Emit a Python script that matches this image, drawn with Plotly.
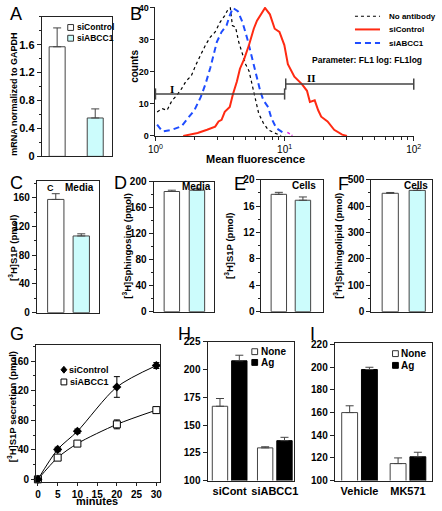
import plotly.graph_objects as go

W, H = 442, 511
FONT = "Arial, Liberation Sans, sans-serif"
CYAN = "#ccfcfc"
EDGE = "#444444"

# ---------------- data ----------------
# A
a_cats = ["siControl", "siABCC1"]
a_vals = [1.57, 0.55]
a_err = [0.27, 0.13]
# B histograms (fluorescence, counts)
noab_x = [1.03, 1.13, 1.23, 1.34, 1.46, 1.59, 1.73, 1.89, 2.06, 2.24, 2.44, 2.66, 2.90, 3.16, 3.44, 3.65, 3.80,
          3.94, 4.17, 4.41, 4.72, 5.00, 5.30, 5.61, 5.94, 6.30, 6.85, 7.46, 8.38, 9.40]
noab_y = [7.5, 8.5, 8.0, 11.0, 12.6, 14.7, 17.2, 18.7, 22.3, 25.3, 28.4, 30.9, 32.5, 35.5, 37.6, 39.6, 40.0,
          34.5, 34.0, 29.4, 25.3, 22.3, 20.3, 16.2, 11.1, 7.0, 4.0, 1.9, 0.9, 0.1]
sictl_x = [1.64, 2.12, 2.51, 2.90, 3.08, 3.25, 3.44, 3.76, 3.98, 4.27, 4.51, 4.86, 5.30, 5.77, 6.11, 6.47, 7.05,
           7.69, 8.38, 9.12, 9.95, 10.6, 11.9, 13.6, 14.9, 15.7, 17.1, 18.2, 19.2, 21.5, 24.2, 27.9, 30.4]
sictl_y = [0.0, 0.9, 1.9, 2.9, 4.5, 5.0, 7.5, 9.0, 13.0, 17.0, 21.0, 24.0, 28.4, 33.5, 36.0, 37.5, 40.0,
           38.0, 33.5, 32.5, 28.4, 22.4, 18.5, 16.2, 14.1, 10.6, 11.1, 8.0, 6.0, 4.5, 1.9, 0.4, 0.0]
siabc_x = [1.03, 1.13, 1.34, 1.59, 1.78, 2.00, 2.24, 2.44, 2.66, 2.82, 2.99, 3.25, 3.55, 3.76, 3.98, 4.34,
           4.72, 5.14, 5.61, 6.11, 6.47, 6.85, 7.46, 7.91, 8.63, 9.40, 10.2]
siabc_y = [3.5, 1.4, 1.9, 3.0, 5.5, 8.0, 12.1, 16.2, 21.3, 25.3, 29.4, 32.5, 34.5, 37.6, 40.0, 39.0,
           35.5, 30.4, 24.3, 18.2, 14.1, 11.1, 9.0, 5.5, 2.4, 1.4, 0.4]
mag_x = [10.5, 11.5]
mag_y = [1.1, 0.1]
gate1_x = [1.0, 10.0]
gate1_y = [13.1, 13.1]
gate2_x = [10.2, 100.0]
gate2_y = [16.2, 16.2]
b_xticks = [1, 10, 100]
b_xticktext = ["10<sup>0</sup>", "10<sup>1</sup>", "10<sup>2</sup>"]
# C-F
c_vals = [158, 107]; c_err = [8, 3]
d_vals = [185, 187]; d_err = [2, 3]
e_vals = [17.8, 16.9]; e_err = [0.3, 0.5]
f_vals = [449, 460]; f_err = [3, 7]
# G
g_min = [0, 5, 10, 20, 30]
g_ctl = [0, 40.5, 65, 125, 154]
g_ctl_err = [1, 3, 3, 14, 4]
g_abc = [0, 29.4, 48.4, 74.4, 93.7]
g_abc_err = [1, 2, 2, 6, 2]
# H
h_cats = ["siCont", "siABCC1"]
h_none = [167, 129.5]; h_none_err = [7, 1]
h_ag = [208, 136]; h_ag_err = [5, 3]
# I
i_cats = ["Vehicle", "MK571"]
i_none = [160, 115]; i_none_err = [6, 5]
i_ag = [198, 121]; i_ag_err = [2, 4]


def px(x):
    return x / W


def py(y):
    return 1 - y / H


def dom_x(a, b):
    return [px(a), px(b)]


def dom_y(top, bottom):
    return [py(bottom), py(top)]


fig = go.Figure()

tickfont = dict(size=10, family=FONT, color="black", weight="bold")


def box_axis(domain, rng, **kw):
    d = dict(domain=domain, range=rng, showline=True, linewidth=1, linecolor="#222", mirror=True,
             ticks="outside", ticklen=4, tickwidth=1, tickcolor="#222", showgrid=False, zeroline=False,
             tickfont=tickfont, fixedrange=True)
    d.update(kw)
    return d


def err(arr, color=EDGE):
    return dict(type="data", array=arr, arrayminus=[0] * len(arr), symmetric=False,
                color=color, thickness=1, width=4)


def pair_bars(cats, vals, errs, xa, ya, width):
    fig.add_trace(go.Bar(x=cats, y=vals, error_y=err(errs), width=width,
                         marker=dict(color=["white", CYAN], line=dict(color=EDGE, width=1)),
                         xaxis=xa, yaxis=ya, showlegend=False, hoverinfo="skip"))


# ---- A ----
pair_bars(a_cats, a_vals, a_err, "x", "y", 0.42)
# ---- B ----
fig.add_trace(go.Scatter(x=noab_x, y=noab_y, mode="lines", line=dict(color="black", width=1.2, dash="dot"),
                         xaxis="x2", yaxis="y2", showlegend=False))
fig.add_trace(go.Scatter(x=siabc_x, y=siabc_y, mode="lines", line=dict(color="#1f4dff", width=2, dash="6px,4px"),
                         xaxis="x2", yaxis="y2", showlegend=False))
fig.add_trace(go.Scatter(x=sictl_x, y=sictl_y, mode="lines", line=dict(color="#ff2a12", width=2),
                         xaxis="x2", yaxis="y2", showlegend=False))
fig.add_trace(go.Scatter(x=mag_x, y=mag_y, mode="lines", line=dict(color="#e020e0", width=1.5, dash="3px,2px"),
                         xaxis="x2", yaxis="y2", showlegend=False))
for gx, gy in ((gate1_x, gate1_y), (gate2_x, gate2_y)):
    fig.add_trace(go.Scatter(x=gx, y=gy, mode="lines+markers",
                             line=dict(color="#444", width=1.5),
                             marker=dict(symbol="line-ns", size=8, line=dict(color="#444", width=1.5)),
                             xaxis="x2", yaxis="y2", showlegend=False, cliponaxis=False))
# ---- C-F ----
pair_bars(a_cats, c_vals, c_err, "x3", "y3", 0.64)
pair_bars(a_cats, d_vals, d_err, "x4", "y4", 0.615)
pair_bars(a_cats, e_vals, e_err, "x5", "y5", 0.64)
pair_bars(a_cats, f_vals, f_err, "x6", "y6", 0.6)
# ---- G ----
fig.add_trace(go.Scatter(x=g_min, y=g_abc, mode="lines+markers",
                         line=dict(color="black", width=1, shape="spline", smoothing=0.8),
                         marker=dict(symbol="square", size=7, color="white", line=dict(color="black", width=1)),
                         error_y=dict(type="data", array=g_abc_err, color="black", thickness=1, width=3),
                         xaxis="x7", yaxis="y7", showlegend=False, cliponaxis=False))
fig.add_trace(go.Scatter(x=g_min, y=g_ctl, mode="lines+markers",
                         line=dict(color="black", width=1, shape="spline", smoothing=0.8),
                         marker=dict(symbol="diamond", size=7, color="black"),
                         error_y=dict(type="data", array=g_ctl_err, color="black", thickness=1, width=3),
                         xaxis="x7", yaxis="y7", showlegend=False, cliponaxis=False))
# ---- H ----
fig.add_trace(go.Bar(x=h_cats, y=h_none, error_y=err(h_none_err), offset=-0.384, width=0.34,
                     marker=dict(color="white", line=dict(color=EDGE, width=1)),
                     xaxis="x8", yaxis="y8", showlegend=False))
fig.add_trace(go.Bar(x=h_cats, y=h_ag, error_y=err(h_ag_err), offset=0.044, width=0.34,
                     marker=dict(color="black", line=dict(color="black", width=1)),
                     xaxis="x8", yaxis="y8", showlegend=False))
# ---- I ----
fig.add_trace(go.Bar(x=i_cats, y=i_none, error_y=err(i_none_err), offset=-0.368, width=0.328,
                     marker=dict(color="white", line=dict(color=EDGE, width=1)),
                     xaxis="x9", yaxis="y9", showlegend=False))
fig.add_trace(go.Bar(x=i_cats, y=i_ag, error_y=err(i_ag_err), offset=0.04, width=0.328,
                     marker=dict(color="black", line=dict(color="black", width=1)),
                     xaxis="x9", yaxis="y9", showlegend=False))

noxt = dict(showticklabels=False, ticks="")
catfont = dict(size=11, family=FONT, color="black", weight="bold")

layout = dict(
    width=W, height=H, margin=dict(l=0, r=0, t=0, b=0),
    paper_bgcolor="white", plot_bgcolor="white", barmode="overlay", showlegend=False,
    font=dict(family=FONT, color="black"), hovermode=False,
    # A
    xaxis=box_axis(dom_x(35, 108), [-0.405, 1.443], **noxt),
    yaxis=box_axis(dom_y(11, 154), [0, 2.0], tickvals=[0, 0.4, 0.8, 1.2, 1.6], ticktext=["0", "0.4", "0.8", "1.2", "1.6"],
                   tickfont=dict(size=11, family=FONT, color="black", weight="bold"),
                   minor=dict(ticks="outside", ticklen=2, dtick=0.2, tickcolor="#222")),
    # B
    xaxis2=dict(domain=dom_x(153, 421), type="log", range=[0, 2], showline=True, linewidth=1, linecolor="#222",
                ticks="outside", ticklen=4, tickcolor="#222", tickvals=b_xticks, ticktext=b_xticktext,
                showgrid=False, zeroline=False, anchor="y2", fixedrange=True,
                tickfont=dict(size=10, family=FONT, color="black"),
                minor=dict(ticks="outside", ticklen=3, tickcolor="#222", dtick="D1")),
    yaxis2=dict(domain=dom_y(1, 133), range=[0, 40.3], showline=True, linewidth=1, linecolor="#222",
                ticks="outside", ticklen=4, tickcolor="#222", tickvals=[0, 10, 20, 30, 40],
                showgrid=False, zeroline=False, anchor="x2", fixedrange=True,
                tickfont=dict(size=9, family=FONT, color="black", weight="bold")),
    # C
    xaxis3=box_axis(dom_x(30, 94), [-0.74, 1.68], anchor="y3", **noxt),
    yaxis3=box_axis(dom_y(179, 314), [0, 184], anchor="x3", tickvals=[0, 40, 80, 120, 160],
                    minor=dict(ticks="outside", ticklen=2, dtick=20, tickcolor="#222")),
    # D
    xaxis4=box_axis(dom_x(151, 214), [-0.73, 1.69], anchor="y4", **noxt),
    yaxis4=box_axis(dom_y(180, 313), [0, 200], anchor="x4", tickvals=[0, 40, 80, 120, 160, 200],
                    minor=dict(ticks="outside", ticklen=2, dtick=20, tickcolor="#222")),
    # E
    xaxis5=box_axis(dom_x(263, 327), [-0.72, 1.84], anchor="y5", **noxt),
    yaxis5=box_axis(dom_y(178, 313), [0, 20], anchor="x5", tickvals=[0, 4, 8, 12, 16, 20],
                    minor=dict(ticks="outside", ticklen=2, dtick=2, tickcolor="#222")),
    # F
    xaxis6=box_axis(dom_x(377, 440), [-0.70, 1.55], anchor="y6", **noxt),
    yaxis6=box_axis(dom_y(178, 313), [0, 500], anchor="x6", tickvals=[0, 100, 200, 300, 400, 500],
                    minor=dict(ticks="outside", ticklen=2, dtick=50, tickcolor="#222")),
    # G
    xaxis7=box_axis(dom_x(29, 158), [-0.5, 31], anchor="y7", tickvals=[0, 5, 10, 15, 20, 25, 30], ticklen=3),
    yaxis7=box_axis(dom_y(347, 487), [-3, 182], anchor="x7", tickvals=[0, 40, 80, 120, 160],
                    minor=dict(ticks="outside", ticklen=2, dtick=20, tickcolor="#222")),
    # H
    xaxis8=box_axis(dom_x(207, 297), [-0.49, 1.43], anchor="y8", ticks="", tickfont=catfont),
    yaxis8=box_axis(dom_y(344, 486), [100, 225], anchor="x8", tickvals=[100, 125, 150, 175, 200, 225]),
    # I
    xaxis9=box_axis(dom_x(339, 440), [-0.512, 1.4975], anchor="y9", ticks="", tickfont=catfont),
    yaxis9=box_axis(dom_y(345, 486), [100, 221.5], anchor="x9", tickvals=[100, 120, 140, 160, 180, 200, 220]),
)
fig.update_layout(**layout)

ann = []


def text(t, x, y, size=10, bold=True, xanchor="left", yanchor="middle", angle=0, family=FONT):
    ann.append(dict(text=t, x=px(x), y=py(y), xref="paper", yref="paper", showarrow=False,
                    xanchor=xanchor, yanchor=yanchor, textangle=angle,
                    font=dict(size=size, family=family, color="black", weight="bold" if bold else "normal")))


# panel letters
for letter, x, y in (("A", 0, 8), ("B", 124, 8), ("C", 0, 181), ("D", 108, 181), ("E", 232, 182),
                     ("F", 340, 182), ("G", 0, 336), ("H", 174, 336), ("I", 311, 336)):
    text(letter, x, y, size=18, bold=False)

# axis titles
text("mRNA normalized to GAPDH", 6, 90, size=9, xanchor="center", angle=-90)
text("counts", 131, 62, size=10, xanchor="center", angle=-90)
text("Mean fluorescence", 257, 157, size=11, xanchor="center")
text("[<sup>3</sup>H]S1P (pmol)", 5, 248, size=9.5, xanchor="center", angle=-90)
text("[<sup>3</sup>H]Sphingosine (pmol)", 124, 246, size=9.5, xanchor="center", angle=-90)
text("[<sup>3</sup>H]S1P (pmol)", 230, 246, size=9.5, xanchor="center", angle=-90)
text("[<sup>3</sup>H]Sphingolipid (pmol)", 343, 246, size=9.5, xanchor="center", angle=-90)
text("[<sup>3</sup>H]S1P secretion (pmol)", 5, 410, size=9.5, xanchor="center", angle=-90)
text("minutes", 92, 507, size=11, xanchor="center")

# in-panel labels
text("C", 38, 186, size=9)
text("Media", 91, 186, size=10, xanchor="right")
text("Media", 213, 185, size=10, xanchor="right")
text("Cells", 322, 184, size=10, xanchor="right")
text("Cells", 438, 184, size=10, xanchor="right")

shapes = []


def rect(x0, y0, x1, y1, fill, line="#333"):
    shapes.append(dict(type="rect", xref="paper", yref="paper", x0=px(x0), x1=px(x1), y0=py(y1), y1=py(y0),
                       fillcolor=fill, line=dict(color=line, width=1)))


def hline(x0, x1, y, color, width, dash="solid"):
    shapes.append(dict(type="line", xref="paper", yref="paper", x0=px(x0), x1=px(x1), y0=py(y), y1=py(y),
                       line=dict(color=color, width=width, dash=dash)))


# A legend
rect(62, 19, 68, 25, "white")
text("siControl", 69, 22, size=8.5)
rect(62, 30, 68, 36, CYAN)
text("siABCC1", 69, 33, size=8.5)

# B legend
hline(360, 386, 10.5, "black", 1.2, "dot")
text("No antibody", 393, 10.5, size=8)
hline(360, 386, 24, "#ff2a12", 2)
text("siControl", 393, 24, size=8)
hline(360, 386, 38, "#1f4dff", 2, "6px,4px")
text("siABCC1", 393, 38, size=8)
text("Parameter: FL1 log: FL1log", 313, 55, size=8.5)
text("I", 170, 85, size=11, xanchor="center", family="Liberation Serif, Times New Roman, serif")
text("II", 315, 74, size=11, xanchor="center", family="Liberation Serif, Times New Roman, serif")

# G legend
shapes.append(dict(type="path", xref="paper", yref="paper",
                   path="M {} {} L {} {} L {} {} L {} {} Z".format(px(58), py(369), px(61), py(372.5), px(58), py(376), px(55), py(372.5)),
                   fillcolor="black", line=dict(color="black", width=1)))
text("siControl", 61, 373, size=9)
rect(55, 382, 61, 388, "white", "black")
text("siABCC1", 62, 385, size=9)

# H legend
rect(253, 351, 259, 357, "white", "#333")
text("None", 260, 354, size=10)
rect(253, 362, 259, 368, "black", "black")
text("Ag", 260, 365, size=10)
# I legend
rect(399, 353, 405, 359, "white", "#333")
text("None", 406, 356, size=10)
rect(399, 365, 405, 371, "black", "black")
text("Ag", 406, 368, size=10)

fig.update_layout(annotations=ann, shapes=shapes)
fig.write_html("out.html", config={"displayModeBar": False, "staticPlot": True},
               post_script="document.body.style.margin='0';document.body.style.overflow='hidden';")
